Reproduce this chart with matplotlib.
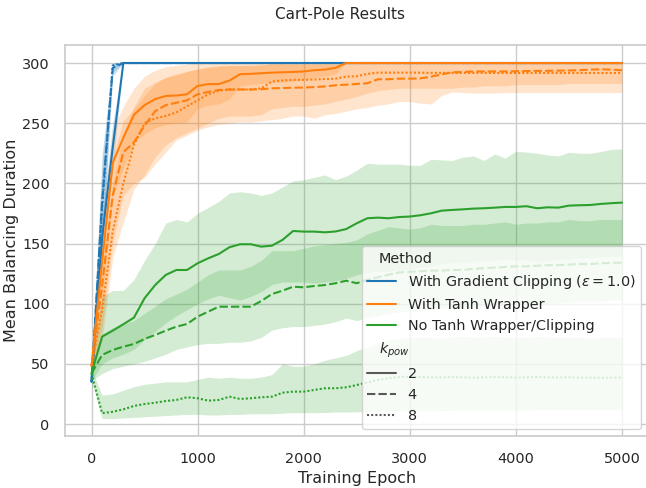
import numpy as np
import matplotlib
matplotlib.use("Agg")
import matplotlib.pyplot as plt
from matplotlib.lines import Line2D
from matplotlib.offsetbox import VPacker
import seaborn as sns

# evaluation every 100 training epochs
epochs = np.arange(0, 5001, 100)

# --- With Gradient Clipping (eps = 1.0) ---
clip_k2 = [35, 155, 230, 300, 300, 300, 300, 300, 300, 300, 300, 300, 300,
           300, 300, 300, 300, 300, 300, 300, 300, 300, 300, 300, 300, 300,
           300, 300, 300, 300, 300, 300, 300, 300, 300, 300, 300, 300, 300,
           300, 300, 300, 300, 300, 300, 300, 300, 300, 300, 300, 300]
clip_k2_lo = [30, 138, 212, 300, 300, 300, 300, 300, 300, 300, 300, 300, 300,
              300, 300, 300, 300, 300, 300, 300, 300, 300, 300, 300, 300, 300,
              300, 300, 300, 300, 300, 300, 300, 300, 300, 300, 300, 300, 300,
              300, 300, 300, 300, 300, 300, 300, 300, 300, 300, 300, 300]
clip_k2_hi = [41, 172, 250, 300, 300, 300, 300, 300, 300, 300, 300, 300, 300,
              300, 300, 300, 300, 300, 300, 300, 300, 300, 300, 300, 300, 300,
              300, 300, 300, 300, 300, 300, 300, 300, 300, 300, 300, 300, 300,
              300, 300, 300, 300, 300, 300, 300, 300, 300, 300, 300, 300]
clip_k4 = [35, 185, 296, 300, 300, 300, 300, 300, 300, 300, 300, 300, 300,
           300, 300, 300, 300, 300, 300, 300, 300, 300, 300, 300, 300, 300,
           300, 300, 300, 300, 300, 300, 300, 300, 300, 300, 300, 300, 300,
           300, 300, 300, 300, 300, 300, 300, 300, 300, 300, 300, 300]
clip_k4_lo = [29, 145, 289, 300, 300, 300, 300, 300, 300, 300, 300, 300, 300,
              300, 300, 300, 300, 300, 300, 300, 300, 300, 300, 300, 300, 300,
              300, 300, 300, 300, 300, 300, 300, 300, 300, 300, 300, 300, 300,
              300, 300, 300, 300, 300, 300, 300, 300, 300, 300, 300, 300]
clip_k4_hi = [42, 225, 300, 300, 300, 300, 300, 300, 300, 300, 300, 300, 300,
              300, 300, 300, 300, 300, 300, 300, 300, 300, 300, 300, 300, 300,
              300, 300, 300, 300, 300, 300, 300, 300, 300, 300, 300, 300, 300,
              300, 300, 300, 300, 300, 300, 300, 300, 300, 300, 300, 300]
clip_k8 = [35, 180, 298, 300, 300, 300, 300, 300, 300, 300, 300, 300, 300,
           300, 300, 300, 300, 300, 300, 300, 300, 300, 300, 300, 300, 300,
           300, 300, 300, 300, 300, 300, 300, 300, 300, 300, 300, 300, 300,
           300, 300, 300, 300, 300, 300, 300, 300, 300, 300, 300, 300]
clip_k8_lo = [29, 140, 292, 300, 300, 300, 300, 300, 300, 300, 300, 300, 300,
              300, 300, 300, 300, 300, 300, 300, 300, 300, 300, 300, 300, 300,
              300, 300, 300, 300, 300, 300, 300, 300, 300, 300, 300, 300, 300,
              300, 300, 300, 300, 300, 300, 300, 300, 300, 300, 300, 300]
clip_k8_hi = [42, 218, 300, 300, 300, 300, 300, 300, 300, 300, 300, 300, 300,
              300, 300, 300, 300, 300, 300, 300, 300, 300, 300, 300, 300, 300,
              300, 300, 300, 300, 300, 300, 300, 300, 300, 300, 300, 300, 300,
              300, 300, 300, 300, 300, 300, 300, 300, 300, 300, 300, 300]

# --- With Tanh Wrapper ---
tanh_k2 = [48, 135, 217, 238, 257, 265, 270, 272.6, 273, 274,
           281, 282.5, 282.5, 285.4, 290.7, 291, 291.5, 292, 292.3, 292.6,
           293, 294, 294.5, 296, 300, 300, 300, 300, 300, 300,
           300, 300, 300, 300, 300, 300, 300, 300, 300, 300,
           300, 300, 300, 300, 300, 300, 300, 300, 300, 300, 300]
tanh_k2_lo = [42, 100, 188, 212, 234, 241, 246, 249, 250, 251,
              262, 265, 266, 270, 281, 282, 283, 284, 284, 285,
              286, 288, 289, 291, 300, 300, 300, 300, 300, 300,
              300, 300, 300, 300, 300, 300, 300, 300, 300, 300,
              300, 300, 300, 300, 300, 300, 300, 300, 300, 300, 300]
tanh_k2_hi = [54, 170, 245, 264, 279, 289, 294, 297, 298, 299,
              300, 300, 300, 300, 300, 300, 300, 300, 300, 300,
              300, 300, 300, 300, 300, 300, 300, 300, 300, 300,
              300, 300, 300, 300, 300, 300, 300, 300, 300, 300,
              300, 300, 300, 300, 300, 300, 300, 300, 300, 300, 300]
tanh_k4 = [48, 115, 190, 226, 234, 248, 260, 265, 267, 269,
           274, 276, 277.6, 278, 278, 278, 278.2, 279, 279.2, 279.5,
           279.6, 280, 280.5, 281.5, 282, 282.6, 283.2, 286.5, 286.5, 287,
           287, 287.2, 288.7, 290.5, 292.3, 292.5, 293, 293, 293, 293,
           293.2, 293.3, 293.5, 293.5, 293.7, 293.8, 294, 294.5, 294.8, 294.5, 294]
tanh_k4_lo = [42, 80, 150, 190, 200, 205, 216, 226, 236, 240,
              244, 247, 249, 250, 251, 251, 252, 253, 254, 256,
              256, 254, 257, 258, 260, 262, 263, 265, 266, 268,
              268, 266.6, 266, 273, 276, 275.5, 275, 275, 275, 275.5,
              275.5, 275.5, 275.5, 275.5, 275.5, 275.5, 275.5, 275.5, 275.5, 275.5, 275.5]
tanh_k4_hi = [54, 150, 222, 252, 262, 273, 283, 288, 291, 293,
              295, 296, 297, 298, 298, 298, 298.5, 299, 299, 299,
              299, 299, 299, 299, 299.5, 299.5, 299.5, 299.5, 299.5, 299.5,
              299.5, 299.5, 299.5, 299.5, 300, 300, 300, 300, 300, 300,
              300, 300, 300, 300, 300, 300, 300, 300, 300, 300, 300]
tanh_k8 = [48, 95, 160, 200, 232, 250, 254, 256, 259, 264,
           269, 274, 277, 278, 278, 278, 279, 284.6, 285.5, 286,
           286, 286.3, 286.7, 287, 288.7, 289, 291, 292, 292, 292,
           292, 292, 291.8, 291.8, 291.8, 291.8, 291.8, 291.8, 291.7, 291.7,
           291.7, 291.7, 291.7, 291.7, 291.7, 291.7, 291.7, 291.7, 291.7, 291.7, 291.7]
tanh_k8_lo = [42, 70, 138, 168, 195, 207, 222, 232, 238, 242,
              246, 250, 254, 256, 256, 256, 257, 262, 263, 264,
              264, 265, 266, 268, 270, 272, 275, 277, 278, 279,
              279, 279, 279, 279, 279, 280, 280, 281, 281, 281,
              282, 282, 282, 282, 282, 283, 283, 283, 283, 283, 283]
tanh_k8_hi = [54, 130, 200, 240, 264, 279, 284, 288, 290, 293,
              295, 297, 298, 298, 298, 298, 298.5, 299.5, 299.5, 299.5,
              299.5, 299.5, 299.5, 299.5, 299.5, 299.5, 300, 300, 300, 300,
              300, 300, 300, 300, 300, 300, 300, 300, 300, 300,
              300, 300, 300, 300, 300, 300, 300, 300, 300, 300, 300]

# --- No Tanh Wrapper/Clipping ---
plain_k2 = [42, 72.6, 77.6, 82.9, 88.4, 104.5, 115.5, 123.9, 128, 128,
            133.6, 137.7, 141.3, 146.9, 149.4, 149.4, 147.4, 148.2, 153, 160.4,
            159.9, 159.9, 159.3, 160, 162, 166.8, 171, 171.5, 171, 172,
            172.4, 173.5, 175.1, 177.3, 177.9, 178.4, 179, 179.3, 179.8, 180.4,
            180.4, 181, 179.3, 180.1, 179.8, 181.5, 181.8, 182, 182.9, 183.5, 184]
plain_k2_lo = [36, 50, 55, 58, 62, 70, 77, 84, 90, 95,
               100, 104, 107, 105, 103, 106, 110, 116, 118, 118,
               118, 117, 118, 119, 121, 124, 126, 127, 127, 128,
               129, 130, 131, 133, 134, 134, 135, 136, 136, 137,
               136, 137, 135, 136, 137, 137, 138, 138, 139, 139, 140]
plain_k2_hi = [46, 106, 111, 111, 120, 136, 150, 167, 170, 168,
               175, 180, 185, 192, 193, 192, 190, 192, 197, 202,
               203, 205, 207, 203, 206, 211, 216.7, 216, 216, 216,
               215, 215, 220, 219.5, 219, 221.7, 222.8, 219, 224.4, 221,
               226.7, 226, 225, 223.6, 222.8, 225.8, 225, 225, 226.4, 228.3, 228.6]
plain_k4 = [42, 57.4, 61.5, 64.3, 66.5, 70.7, 74, 77.6, 80.9, 83.1,
            89.2, 93.4, 97.5, 97.5, 97.5, 97.5, 102.2, 108, 110.8, 114.1,
            113.6, 114.7, 115.5, 117, 119.1, 117, 120, 122, 124, 126,
            126.5, 127, 127.5, 127.5, 128, 128, 129, 129.5, 130, 130.5,
            131, 131, 131.5, 132, 132, 132.5, 133, 133, 133.5, 134, 134]
plain_k4_lo = [36, 42, 46, 48, 50, 52, 55, 58, 62, 64,
               66, 67, 67, 68, 68, 69, 72, 78, 80, 81,
               81, 82, 83, 85, 88, 86, 88, 90, 92, 93,
               94, 94, 95, 96, 96, 97, 97, 98, 98, 99,
               99, 100, 100, 100, 101, 101, 102, 102, 102, 103, 103]
plain_k4_hi = [46, 75, 80, 83, 86, 92, 98, 104, 108, 112,
               118, 124, 128, 128, 128, 131, 136, 144, 144, 144,
               146, 148, 149, 150, 151, 153, 158, 161, 164, 163,
               162, 163, 166, 165, 165, 165, 166, 166, 167, 168,
               166, 167, 167, 168, 168, 170, 169, 169, 170, 170, 170]
plain_k8 = [42, 9, 10.2, 12.2, 15, 16.6, 17.7, 19.1, 20, 22.2,
            21.4, 19.4, 20, 22.7, 20.8, 21.4, 22.2, 22.7, 26, 26.9,
            26.9, 28.3, 29.7, 29.7, 30.5, 32.4, 34.5, 36.6, 38, 39,
            39.3, 39, 38.8, 38.8, 39, 38.8, 38.5, 38.8, 39, 38.8,
            38.6, 38.8, 39, 38.8, 38.6, 38.8, 38.5, 38.6, 38.4, 38.5, 38.5]
plain_k8_lo = [36, 4.5, 4.5, 5, 5.5, 6, 6.5, 7, 7.5, 8,
               8, 7.5, 7.5, 8, 8, 8.5, 8.5, 8.5, 9, 9.5,
               9.5, 9.5, 9.5, 10, 10, 10, 10.5, 10.5, 11, 11,
               11, 11, 11, 11, 11.5, 11.5, 11.5, 11.5, 11.5, 11.5,
               11.5, 11.5, 12, 12, 12, 12, 12, 12, 12, 12, 12]
plain_k8_hi = [46, 24, 25, 28, 31, 33, 34, 35, 35, 35,
               37, 39, 38, 39, 38, 38, 39, 41, 50, 48,
               48, 50, 53, 55, 57, 61, 64, 67, 70, 71,
               72, 72, 72, 71, 72, 73, 72, 72, 73, 72,
               72, 72, 73, 72, 72, 72, 72, 71, 72, 72, 72]

methods = ["With Gradient Clipping ($\\epsilon = 1.0$)", "With Tanh Wrapper",
           "No Tanh Wrapper/Clipping"]
kpows = ["2", "4", "8"]
colors = sns.color_palette()[:3]
dash_styles = ["", (4, 1.5), (1, 1)]

runs = [
    [(clip_k2, clip_k2_lo, clip_k2_hi), (clip_k4, clip_k4_lo, clip_k4_hi),
     (clip_k8, clip_k8_lo, clip_k8_hi)],
    [(tanh_k2, tanh_k2_lo, tanh_k2_hi), (tanh_k4, tanh_k4_lo, tanh_k4_hi),
     (tanh_k8, tanh_k8_lo, tanh_k8_hi)],
    [(plain_k2, plain_k2_lo, plain_k2_hi), (plain_k4, plain_k4_lo, plain_k4_hi),
     (plain_k8, plain_k8_lo, plain_k8_hi)],
]

sns.set_theme(style="whitegrid", font_scale=0.94)
plt.rcParams.update({
    "xtick.major.pad": 5.5, "ytick.major.pad": 5,
    "axes.labelsize": 11.5,
})

fig = plt.figure(figsize=(6.46, 4.88), dpi=100)
ax = fig.add_axes([0.1006, 0.1058, 0.9033, 0.8015])

for color, method_runs in zip(colors, runs):
    for dashes, (mean, lo, hi) in zip(dash_styles, method_runs):
        if dashes:
            ax.plot(epochs, mean, color=color, lw=1.5, dashes=dashes)
        else:
            ax.plot(epochs, mean, color=color, lw=1.5)
        ax.fill_between(epochs, lo, hi, color=color, alpha=0.2, linewidth=0)

ax.set_xlabel("Training Epoch", labelpad=3)
ax.set_ylabel("Mean Balancing Duration", labelpad=2)
fig.text(0.527, 0.971, "Cart-Pole Results", ha="center", va="center", fontsize=11)

# legend in two sections: hue (Method) and style (k_pow)
handles = [Line2D([], [], visible=False)]
labels = ["Method"]
for color, name in zip(colors, methods):
    handles.append(Line2D([], [], color=color, lw=1.5))
    labels.append(name)
handles.append(Line2D([], [], visible=False))
labels.append("$k_{pow}$")
for dashes, k in zip(dash_styles, kpows):
    if dashes:
        handles.append(Line2D([], [], color=".35", lw=1.5, dashes=dashes))
    else:
        handles.append(Line2D([], [], color=".35", lw=1.5))
    labels.append(k)
leg = ax.legend(handles, labels, loc="lower right")

# pull the section headers left, like legend titles
for hpack in leg.findobj(VPacker)[0].get_children():
    draw_area, text_area = hpack.get_children()
    if not all(a.get_visible() for a in draw_area.get_children()):
        draw_area.set_width(0)

fig.savefig("out.png", dpi=100)
